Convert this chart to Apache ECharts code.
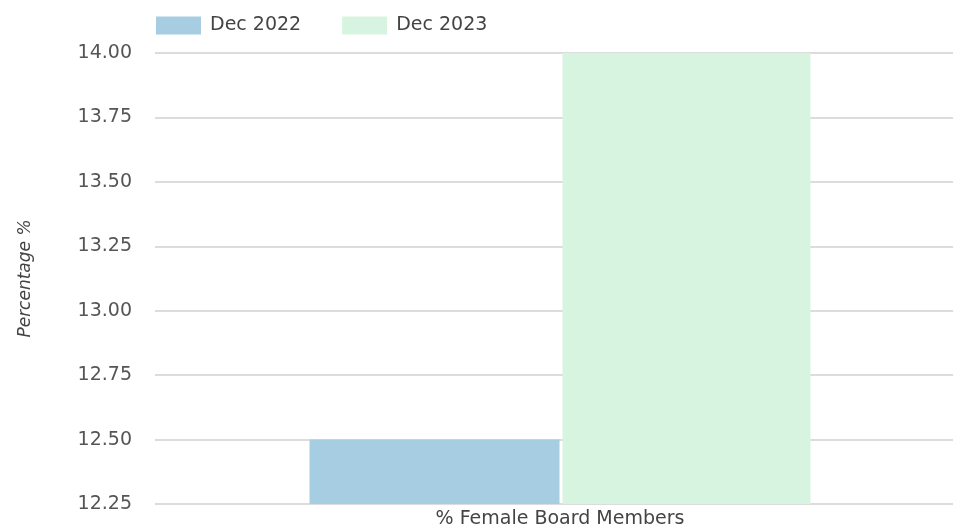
<!DOCTYPE html>
<html>
<head>
<meta charset="utf-8">
<script src="https://cdn.jsdelivr.net/npm/echarts@6/dist/echarts.min.js"></script>
<style>
html,body{margin:0;padding:0;background:#fff;}
#chart{width:953px;height:529px;}
</style>
</head>
<body>
<div id="chart"></div>
<script>
const categories = ['% Female Board Members'];
const seriesNames = ['Dec 2022', 'Dec 2023'];
const dec2022 = [12.5];
const dec2023 = [14.0];
const yMin = 12.25, yMax = 14.0, yStep = 0.25;

const colors = ['#a6cde2', '#d7f4e0'];
const font = 'DejaVu Sans';
const chart = echarts.init(document.getElementById('chart'), null, {renderer: 'canvas'});
chart.setOption({
  animation: false,
  legend: {
    left: 151, top: 11,
    itemWidth: 45, itemHeight: 18, itemGap: 41,
    icon: 'rect',
    textStyle: {fontFamily: font, fontSize: 19, color: '#444', padding: [0, 0, 0, 4]},
    data: seriesNames
  },
  grid: {left: 155, top: 53, width: 810, height: 451, containLabel: false, outerBoundsMode: 'none'},
  xAxis: {
    type: 'category', data: categories,
    axisLine: {show: false}, axisTick: {show: false},
    axisLabel: {fontFamily: font, fontSize: 19, color: '#444', margin: 6}
  },
  yAxis: {
    type: 'value', min: yMin, max: yMax, interval: yStep,
    name: 'Percentage %', nameLocation: 'middle', nameRotate: 90, nameGap: 121,
    nameTextStyle: {fontFamily: font, fontSize: 17, fontStyle: 'italic', color: '#444'},
    axisLine: {show: false}, axisTick: {show: false},
    axisLabel: {fontFamily: font, fontSize: 19, color: '#555', margin: 23,
      formatter: v => v.toFixed(2)},
    splitLine: {lineStyle: {color: '#dcdcdc', width: 2}}
  },
  series: [
    {name: seriesNames[0], type: 'bar', data: dec2022, barWidth: 250, barGap: '1.2%',
     itemStyle: {color: colors[0]}},
    {name: seriesNames[1], type: 'bar', data: dec2023, barWidth: 248, barGap: '1.2%',
     itemStyle: {color: colors[1]}}
  ]
});
</script>
</body>
</html>
